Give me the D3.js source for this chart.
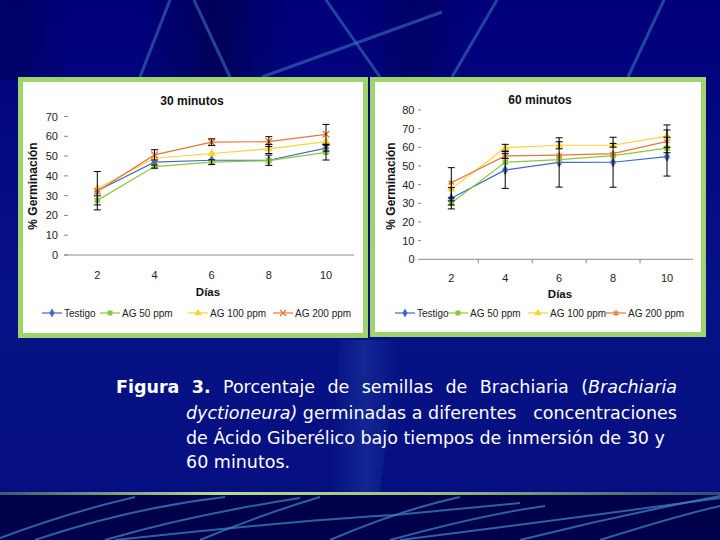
<!DOCTYPE html>
<html><head><meta charset="utf-8">
<script src="https://cdn.jsdelivr.net/npm/d3@7"></script>
<style>html,body{margin:0;padding:0;background:#040d80;}svg{display:block}</style>
</head><body><svg id="c" width="720" height="540"></svg>
<script>
// ---------- DATA ----------
const days = [2, 4, 6, 8, 10];
const seriesNames = ["Testigo", "AG 50 ppm", "AG 100 ppm", "AG 200 ppm"];
const yTicks30 = [0, 10, 20, 30, 40, 50, 60, 70];
const yTicks60 = [0, 10, 20, 30, 40, 50, 60, 70, 80];
const titles = ["30 minutos", "60 minutos"];

// 30 minutos
const testigo30 = [32.5, 46.9, 47.9, 47.9, 54.0];
const ag50_30   = [27.6, 44.7, 46.9, 47.7, 51.9];
const ag100_30  = [33.6, 48.9, 51.3, 53.6, 57.3];
const ag200_30  = [32.2, 50.6, 57.0, 57.3, 61.0];
const testigo30Err = [9.7, 0, 0, 2.6, 1.5];
const ag50_30Err   = [2.3, 0.8, 1.2, 0, 3.9];
const ag100_30Err  = [0, 0, 0, 2.3, 0];
const ag200_30Err  = [0, 2.6, 1.7, 2.5, 5.0];

// 60 minutos
const testigo60 = [32.7, 47.9, 51.9, 52.0, 55.0];
const ag50_60   = [30.2, 52.0, 53.4, 55.6, 59.6];
const ag100_60  = [37.6, 59.8, 61.1, 61.1, 66.0];
const ag200_60  = [41.0, 55.4, 55.8, 56.6, 63.2];
const testigo60Err = [5.7, 9.9, 13.2, 13.4, 10.4];
const ag50_60Err   = [1.1, 0, 0, 0, 0];
const ag100_60Err  = [0, 1.8, 1.9, 1.0, 6.0];
const ag200_60Err  = [8.1, 1.4, 0, 0, 6.1];

const colors = ["#4169c4", "#8cc63f", "#ffd233", "#e8763a"];

// ---------- BACKGROUND ----------
const svg = d3.select("#c");
const defs = svg.append("defs");
const bg = defs.append("linearGradient").attr("id", "bgG").attr("x1", 0).attr("y1", 0).attr("x2", 0).attr("y2", 1);
bg.append("stop").attr("offset", 0).attr("stop-color", "#00007a");
bg.append("stop").attr("offset", 0.55).attr("stop-color", "#061285");
bg.append("stop").attr("offset", 0.9).attr("stop-color", "#050f82");
svg.append("rect").attr("width", 720).attr("height", 540).attr("fill", "url(#bgG)");

const dk = defs.append("linearGradient").attr("id", "dkG");
dk.append("stop").attr("offset", 0).attr("stop-color", "#000050").attr("stop-opacity", 0);
dk.append("stop").attr("offset", 0.5).attr("stop-color", "#000050").attr("stop-opacity", 0.8);
dk.append("stop").attr("offset", 1).attr("stop-color", "#000050").attr("stop-opacity", 0);
svg.append("rect").attr("x", 140).attr("y", 0).attr("width", 150).attr("height", 80).attr("fill", "url(#dkG)");
svg.append("rect").attr("x", 360).attr("y", 0).attr("width", 110).attr("height", 80).attr("fill", "url(#dkG)").attr("opacity", 0.6);
svg.append("rect").attr("x", -40).attr("y", 0).attr("width", 110).attr("height", 80).attr("fill", "url(#dkG)").attr("opacity", 0.6);

// light band behind caption
const lb = defs.append("linearGradient").attr("id", "lbG");
lb.append("stop").attr("offset", 0).attr("stop-color", "#2a4fb0").attr("stop-opacity", 0);
lb.append("stop").attr("offset", 0.5).attr("stop-color", "#2a4fb0").attr("stop-opacity", 0.35);
lb.append("stop").attr("offset", 1).attr("stop-color", "#2a4fb0").attr("stop-opacity", 0);
svg.append("path").attr("d", "M340,340 L400,340 L380,492 L330,492 Z").attr("fill", "url(#lbG)");

const topStreaks = ["M170,0 L140,77", "M194,0 L230,77", "M326,0 L380,77", "M442,12 L262,77", "M497,0 L452,77", "M664,0 L628,77"];
svg.append("g").selectAll("path").data(topStreaks).join("path")
  .attr("d", d => d).attr("fill", "none").attr("stroke", "#3a70bb").attr("stroke-width", 3).attr("opacity", 0.6);

// bottom band
svg.append("rect").attr("x", 0).attr("y", 494).attr("width", 720).attr("height", 46).attr("fill", "#00004a");
const gl = defs.append("linearGradient").attr("id", "glG");
gl.append("stop").attr("offset", 0).attr("stop-color", "#3d5a70");
gl.append("stop").attr("offset", 0.3).attr("stop-color", "#b6dd8c");
gl.append("stop").attr("offset", 0.6).attr("stop-color", "#9cc27c");
gl.append("stop").attr("offset", 1).attr("stop-color", "#2d4a78");
svg.append("rect").attr("x", 0).attr("y", 492).attr("width", 720).attr("height", 3).attr("fill", "url(#glG)");
const botStreaks = [
  "M0,538 Q70,512 135,497", "M35,540 Q130,508 225,497", "M105,540 Q190,515 300,498",
  "M115,540 Q300,520 395,515 Q470,508 520,503", "M200,540 Q260,515 320,497",
  "M330,540 Q400,510 460,497", "M390,540 Q480,515 545,506", "M400,540 Q560,520 720,498",
  "M520,540 Q620,515 720,496", "M600,540 Q680,515 720,506"];
svg.append("g").selectAll("path").data(botStreaks).join("path")
  .attr("d", d => d).attr("fill", "none").attr("stroke", "#3f80c4").attr("stroke-width", 2).attr("opacity", 0.75);

// ---------- CHARTS ----------
const charts = [
  { title: titles[0], series: [testigo30, ag50_30, ag100_30, ag200_30], errs: [testigo30Err, ag50_30Err, ag100_30Err, ag200_30Err],
    yTicks: yTicks30, yMax: 70, panel: [18, 77, 350, 261], xr: [97.3, 326], yr: [255, 116.5], axisX: [64, 354],
    labelX: 58, tickX: [64, 68], titleXY: [192, 105], diasXY: [208, 296], ytXY: [33, 186], xLabY: 279, legY: 313,
    legX: [42, 100, 188, 273], bTicks: false, lastSym: d3.symbolTimes },
  { title: titles[1], series: [testigo60, ag50_60, ag100_60, ag200_60], errs: [testigo60Err, ag50_60Err, ag100_60Err, ag200_60Err],
    yTicks: yTicks60, yMax: 80, panel: [370, 77, 336, 260], xr: [451.3, 667], yr: [259.3, 110], axisX: [421, 693],
    labelX: 414.5, tickX: [418, 421], titleXY: [540, 104], diasXY: [560, 298], ytXY: [391, 186], xLabY: 282, legY: 313,
    legX: [395, 448, 528, 606], bTicks: true, lastSym: d3.symbolAsterisk }
];
const FONT = "'Liberation Sans', Arial, sans-serif";

charts.forEach(c => {
  const g = svg.append("g");
  const [px, py, pw, ph] = c.panel;
  g.append("rect").attr("x", px).attr("y", py).attr("width", pw).attr("height", ph).attr("fill", "#9fd46d");
  g.append("rect").attr("x", px + 5).attr("y", py + 5).attr("width", pw - 10).attr("height", ph - 10).attr("fill", "#ffffff");

  const x = d3.scalePoint().domain(days).range(c.xr);
  const y = d3.scaleLinear().domain([0, c.yMax]).range(c.yr);

  g.append("text").attr("x", c.titleXY[0]).attr("y", c.titleXY[1]).attr("text-anchor", "middle")
    .attr("font-family", FONT).attr("font-weight", "bold").attr("font-size", 12).attr("fill", "#111").text(c.title);

  g.selectAll(".yl").data(c.yTicks).join("text").attr("x", c.labelX).attr("y", d => y(d) + 4)
    .attr("text-anchor", "end").attr("font-family", FONT).attr("font-size", 11).attr("fill", "#222").text(d => d);
  g.selectAll(".yt").data(c.yTicks).join("line").attr("x1", c.tickX[0]).attr("x2", c.tickX[1])
    .attr("y1", d => y(d)).attr("y2", d => y(d)).attr("stroke", "#888").attr("stroke-width", 1);

  g.append("line").attr("x1", c.axisX[0]).attr("x2", c.axisX[1]).attr("y1", y(0)).attr("y2", y(0))
    .attr("stroke", "#8a8a8a").attr("stroke-width", 1);
  if (c.bTicks) {
    const step = x.step();
    const bounds = days.slice(0, -1).map(d => x(d) + step / 2);
    g.selectAll(".bt").data(bounds).join("line").attr("x1", d => d).attr("x2", d => d)
      .attr("y1", y(0)).attr("y2", y(0) + 4).attr("stroke", "#888");
  }
  g.selectAll(".xl").data(days).join("text").attr("x", d => x(d)).attr("y", c.xLabY)
    .attr("text-anchor", "middle").attr("font-family", FONT).attr("font-size", 11).attr("fill", "#222").text(d => d);

  g.append("text").attr("x", c.diasXY[0]).attr("y", c.diasXY[1]).attr("text-anchor", "middle")
    .attr("font-family", FONT).attr("font-weight", "bold").attr("font-size", 11.5).attr("fill", "#111").text("Días");
  g.append("text").attr("transform", `translate(${c.ytXY[0] + 4},${c.ytXY[1]}) rotate(-90)`).attr("text-anchor", "middle")
    .attr("font-family", FONT).attr("font-weight", "bold").attr("font-size", 12).attr("fill", "#111").text("% Germinación");

  const syms = [d3.symbolDiamond, d3.symbolSquare, d3.symbolTriangle, c.lastSym];
  const line = d3.line().x((d, i) => x(days[i])).y(d => y(d));

  c.series.forEach((s, k) => {
    g.append("path").datum(s).attr("d", line).attr("fill", "none").attr("stroke", colors[k]).attr("stroke-width", 1.2);
  });
  c.series.forEach((s, k) => {
    const stroked = k === 3;
    g.selectAll(null).data(s).join("path")
      .attr("transform", (d, i) => `translate(${x(days[i])},${y(d)})`)
      .attr("d", d3.symbol().type(syms[k]).size(k === 0 ? 32 : 30))
      .attr("fill", stroked ? "none" : colors[k]).attr("stroke", stroked ? colors[k] : "none").attr("stroke-width", 1.4);
  });
  c.series.forEach((s, k) => {
    const e = c.errs[k];
    const data = s.map((v, i) => ({ v, e: e[i], d: days[i] })).filter(o => o.e > 0);
    const eg = g.append("g").attr("stroke", "#000").attr("stroke-width", 1);
    eg.selectAll(".v").data(data).join("line").attr("x1", o => x(o.d)).attr("x2", o => x(o.d))
      .attr("y1", o => y(o.v - o.e)).attr("y2", o => y(o.v + o.e));
    eg.selectAll(".h").data(data.flatMap(o => [{ d: o.d, y: o.v - o.e }, { d: o.d, y: o.v + o.e }])).join("line")
      .attr("x1", o => x(o.d) - 3.5).attr("x2", o => x(o.d) + 3.5).attr("y1", o => y(o.y)).attr("y2", o => y(o.y));
  });

  seriesNames.forEach((n, k) => {
    const lx = c.legX[k];
    g.append("line").attr("x1", lx).attr("x2", lx + 20).attr("y1", c.legY).attr("y2", c.legY).attr("stroke", colors[k]).attr("stroke-width", 1.2);
    const stroked = k === 3;
    g.append("path").attr("transform", `translate(${lx + 10},${c.legY})`).attr("d", d3.symbol().type(syms[k]).size(24))
      .attr("fill", stroked ? "none" : colors[k]).attr("stroke", stroked ? colors[k] : "none").attr("stroke-width", 1.3);
    g.append("text").attr("x", lx + 22).attr("y", c.legY + 3.5).attr("font-family", FONT).attr("font-size", 10)
      .attr("fill", "#222").text(n);
  });
});

// ---------- CAPTION ----------
const CF = "'DejaVu Sans', Verdana, sans-serif";
const cap = svg.append("g").attr("font-family", CF).attr("font-size", 17.5).attr("fill", "#ffffff");
function justify(words, x0, x1, yb) {
  const nodes = words.map(w => {
    const t = cap.append("text").attr("y", yb);
    w.forEach(s => t.append("tspan").text(s.t).attr("font-weight", s.b ? "bold" : null).attr("font-style", s.i ? "italic" : null));
    return t;
  });
  const ws = nodes.map(n => n.node().getComputedTextLength());
  const gap = (x1 - x0 - d3.sum(ws)) / (nodes.length - 1);
  let xx = x0;
  nodes.forEach((n, i) => { n.attr("x", xx); xx += ws[i] + gap; });
}
justify([[{ t: "Figura", b: 1 }], [{ t: "3.", b: 1 }], [{ t: "Porcentaje" }], [{ t: "de" }], [{ t: "semillas" }],
  [{ t: "de" }], [{ t: "Brachiaria" }], [{ t: "(" }, { t: "Brachiaria", i: 1 }]], 116, 677, 393);
const l2 = cap.append("text").attr("x", 186).attr("y", 419);
l2.append("tspan").attr("font-style", "italic").text("dyctioneura)");
l2.append("tspan").text(" germinadas a diferentes");
cap.append("text").attr("x", 677).attr("y", 419).attr("text-anchor", "end").text("concentraciones");
const l3 = cap.append("text").attr("x", 186).attr("y", 444).text("de Ácido Giberélico bajo tiempos de inmersión de 30 y");
const w3 = l3.node().getComputedTextLength();
if (Math.abs(w3 - 482) > 4) l3.attr("textLength", 482).attr("lengthAdjust", "spacing");
cap.append("text").attr("x", 186).attr("y", 468).text("60 minutos.");
</script></body></html>
